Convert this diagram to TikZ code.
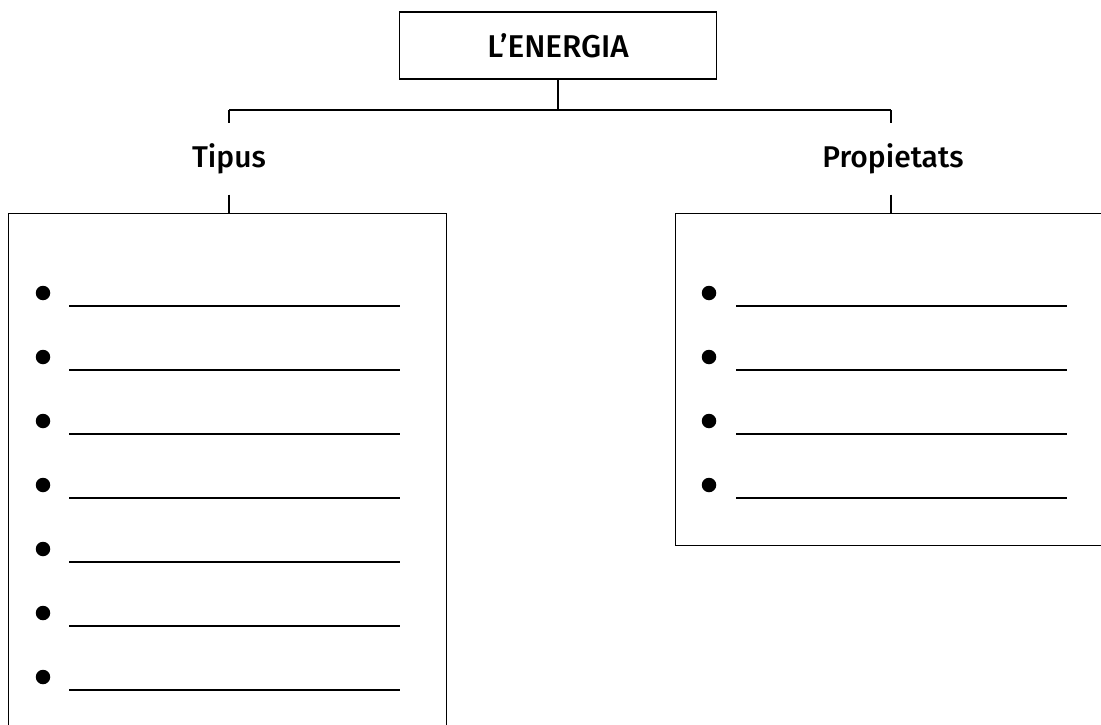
\documentclass[tikz,border=0pt]{standalone}
\usepackage{fontspec}
\setmainfont{Fira Sans}[UprightFont=* Medium]
\begin{document}
\begin{tikzpicture}[x=1pt,y=1pt,line width=1.3pt,
  lbl/.style={font=\fontsize{30}{34}\selectfont, inner sep=0pt, minimum height=70pt},
  frame/.style={draw, rectangle, inner sep=0pt, line width=1.3pt},
  blank/.style={line width=1.8pt},
  dot/.style={fill=black, circle, inner sep=0pt, minimum size=14.5pt}]
\useasboundingbox (0,0) rectangle (1101,-725);
\clip (0,0) rectangle (1101,-725);
% title
\node[frame, minimum width=317pt, minimum height=67pt, font=\fontsize{31.5}{34}\selectfont] (title) at (558,-45.5) {L’ENERGIA};
\coordinate (j) at (558,-110);
\coordinate (jl) at (229,-110);
\coordinate (jr) at (891,-110);
\draw (title.south) -- (j);
\draw (jl) -- (jr);
% labels
\node[lbl] (tipus) at (229,-159) {Tipus};
\node[lbl] (prop) at (893,-159) {Propietats};
\draw (jl) -- (tipus.north);
\draw (jr) -- (jr |- prop.north);
% boxes
\node[frame, anchor=north west, minimum width=438pt, minimum height=560pt] (lbox) at (8,-213) {};
\node[frame, anchor=north west, minimum width=450pt, minimum height=332pt] (rbox) at (675,-213) {};
\draw (tipus.south) -- (tipus.south |- lbox.north);
\draw (prop.south -| jr) -- (jr |- rbox.north);
% bullets left
\foreach \k in {0,...,6} {
  \node[dot] (lb\k) at (43,{-293-64*\k}) {};
  \coordinate (ls\k) at (69,{-306-64*\k});
  \coordinate (le\k) at (400,{-306-64*\k});
  \draw[blank] (ls\k) -- (le\k);
}
% bullets right
\foreach \k in {0,...,3} {
  \node[dot] (rb\k) at (709,{-293-64*\k}) {};
  \coordinate (rs\k) at (736,{-306-64*\k});
  \coordinate (re\k) at (1067,{-306-64*\k});
  \draw[blank] (rs\k) -- (re\k);
}
\end{tikzpicture}
\end{document}
